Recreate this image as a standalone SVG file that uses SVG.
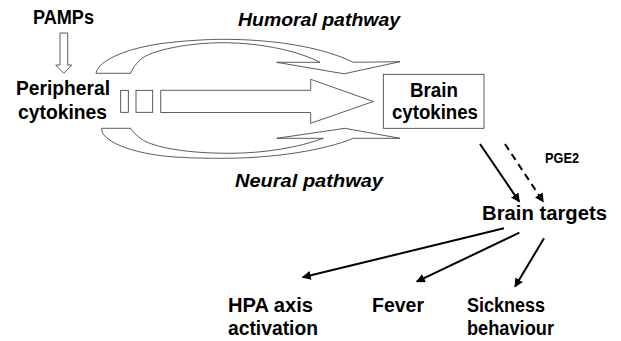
<svg xmlns="http://www.w3.org/2000/svg" width="621" height="341" viewBox="0 0 621 341">
<defs>
<style>
.t{font-family:"Liberation Sans","DejaVu Sans",sans-serif;font-weight:bold;font-size:19.5px;fill:#000}
.i{font-size:18.5px;font-style:italic}
.s{font-size:14px}
.o{fill:#fff;stroke:#333;stroke-width:0.8;stroke-linejoin:miter}
.c{fill:none;stroke:#000;stroke-width:2}
.d{stroke-dasharray:7,5}
</style>
<marker id="ah" viewBox="0 0 10 10" refX="9" refY="5" markerWidth="4.5" markerHeight="4.5" markerUnits="strokeWidth" orient="auto">
<path d="M0,0 L10,5 L0,10 Z" fill="#000"/>
</marker>
</defs>
<rect width="621" height="341" fill="#fff"/>

<g id="pamps">
<text class="t" x="33" y="24" textLength="61" lengthAdjust="spacingAndGlyphs">PAMPs</text>
<path class="o" d="M60,33 L67.7,33 L67.7,65 L71.7,65 L63.7,73.3 L55.7,65 L60,65 Z"/>
</g>

<g id="peripheral">
<text class="t" x="16" y="95" textLength="94" lengthAdjust="spacingAndGlyphs">Peripheral</text>
<text class="t" x="18" y="119" textLength="89" lengthAdjust="spacingAndGlyphs">cytokines</text>
</g>

<g id="humoral">
<path class="o" d="M96,73.3 C98,60 130,46 175,42 C195,40 212,39.3 223,39.3 C270,39.3 320,46 353.3,62.3 L400,61.7 L344,73.8 L276.7,62.3 L320,62.3 C300,52 265,43 223,42.7 C190,42.7 150,50 140,60 C135,65 132,69 130.7,73.3 Z"/>
<text class="t i" x="238" y="26" textLength="162" lengthAdjust="spacingAndGlyphs">Humoral pathway</text>
</g>

<g id="neural">
<path class="o" d="M101.7,128.3 C100,140 130,154 175,157 C195,158.3 212,158.3 223,158.3 C275,158.3 325,150 353.3,138.3 L400,138.3 L345,128.3 L276.7,138.3 L323.3,138.3 C300,147 265,153.3 230,153.3 C180,153.3 150,146 140,138 C135,134 132,131 130.7,128.3 Z"/>
<text class="t i" x="235" y="187" textLength="148" lengthAdjust="spacingAndGlyphs">Neural pathway</text>
</g>

<g id="direct">
<rect class="o" x="120.7" y="90.3" width="7.6" height="22"/>
<rect class="o" x="136" y="90.3" width="16.7" height="22"/>
<path class="o" d="M160.7,90.3 L310.7,90.3 L310.7,79.3 L373.3,101.5 L310.7,123.3 L310.7,112.5 L160.7,112.5 Z"/>
</g>

<g id="brain-cytokines">
<rect x="383.3" y="74.3" width="100.7" height="54" fill="#fff" stroke="#333" stroke-width="0.8"/>
<text class="t" x="410" y="97" textLength="48" lengthAdjust="spacingAndGlyphs">Brain</text>
<text class="t" x="392" y="119" textLength="86" lengthAdjust="spacingAndGlyphs">cytokines</text>
</g>

<g id="pge2">
<text class="t s" x="545" y="163" textLength="34" lengthAdjust="spacingAndGlyphs">PGE2</text>
</g>

<g id="brain-targets">
<text class="t" x="482" y="220" textLength="125" lengthAdjust="spacingAndGlyphs">Brain targets</text>
</g>

<g id="hpa">
<text class="t" x="228" y="312" textLength="85" lengthAdjust="spacingAndGlyphs">HPA axis</text>
<text class="t" x="228" y="335" textLength="90" lengthAdjust="spacingAndGlyphs">activation</text>
</g>

<g id="fever">
<text class="t" x="372" y="312" textLength="52" lengthAdjust="spacingAndGlyphs">Fever</text>
</g>

<g id="sickness">
<text class="t" x="467" y="312" textLength="78" lengthAdjust="spacingAndGlyphs">Sickness</text>
<text class="t" x="467" y="335" textLength="87" lengthAdjust="spacingAndGlyphs">behaviour</text>
</g>

<g id="connectors">
<line class="c" x1="480" y1="144" x2="519.3" y2="201.7" marker-end="url(#ah)"/>
<line class="c d" x1="505" y1="144" x2="543.3" y2="201.7" marker-end="url(#ah)"/>
<line class="c" x1="504" y1="228.3" x2="302.7" y2="277.3" marker-end="url(#ah)"/>
<line class="c" x1="519.3" y1="232.7" x2="416.7" y2="281.7" marker-end="url(#ah)"/>
<line class="c" x1="544" y1="238.3" x2="515" y2="286.7" marker-end="url(#ah)"/>
</g>
</svg>
